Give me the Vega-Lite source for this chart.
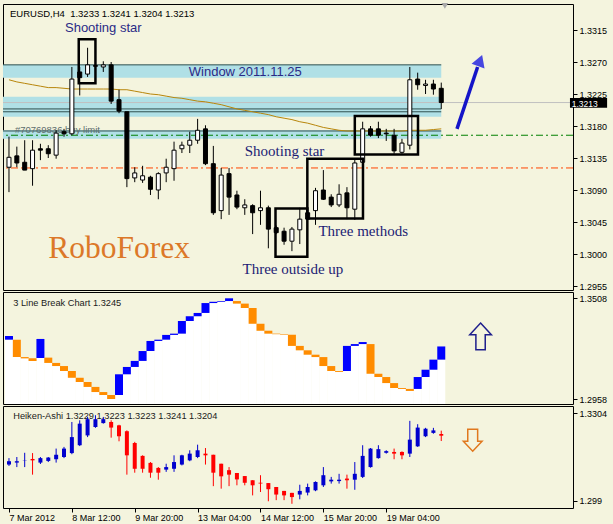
{
  "$schema": "https://vega.github.io/schema/vega-lite/v6.json",
  "background": "#F4F4DE",
  "padding": {"left": 2, "top": 2, "right": 10, "bottom": 6},
  "bounds": "flush",
  "spacing": 2,
  "config": {
    "view": {"stroke": "#000000", "strokeWidth": 1},
    "axis": {"labelFont": "Liberation Sans", "labelFontSize": 9, "labelColor": "#000000", "tickColor": "#000000", "tickSize": 4, "domain": false, "grid": false, "labelPadding": 2, "labelOverlap": false}
  },
  "datasets": {
    "candles": [
      {"k":0,"o":1.3122,"h":1.3165,"l":1.3087,"c":1.3136,"ma":1.3245},
      {"k":1,"o":1.3138,"h":1.3151,"l":1.3122,"c":1.3128,"ma":1.3242},
      {"k":2,"o":1.3129,"h":1.3160,"l":1.3118,"c":1.3118,"ma":1.3240},
      {"k":3,"o":1.3120,"h":1.3160,"l":1.3096,"c":1.3146,"ma":1.3238},
      {"k":4,"o":1.3148,"h":1.3155,"l":1.3132,"c":1.3146,"ma":1.3236},
      {"k":5,"o":1.3148,"h":1.3153,"l":1.3135,"c":1.3141,"ma":1.3234},
      {"k":6,"o":1.3139,"h":1.3174,"l":1.3134,"c":1.3170,"ma":1.3234},
      {"k":7,"o":1.3172,"h":1.3176,"l":1.3165,"c":1.3169,"ma":1.3233},
      {"k":8,"o":1.3169,"h":1.3263,"l":1.3167,"c":1.3246,"ma":1.3232},
      {"k":9,"o":1.3256,"h":1.3263,"l":1.3223,"c":1.3248,"ma":1.3232},
      {"k":10,"o":1.3253,"h":1.3290,"l":1.3249,"c":1.3266,"ma":1.3232},
      {"k":11,"o":1.3265,"h":1.3267,"l":1.3262,"c":1.3264,"ma":1.3232},
      {"k":12,"o":1.3263,"h":1.3271,"l":1.3256,"c":1.3266,"ma":1.3232},
      {"k":13,"o":1.3266,"h":1.3270,"l":1.3211,"c":1.3215,"ma":1.3232},
      {"k":14,"o":1.3217,"h":1.3231,"l":1.3198,"c":1.3201,"ma":1.3231},
      {"k":15,"o":1.3200,"h":1.3200,"l":1.3094,"c":1.3106,"ma":1.3231},
      {"k":16,"o":1.3107,"h":1.3122,"l":1.3101,"c":1.3114,"ma":1.3229},
      {"k":17,"o":1.3104,"h":1.3124,"l":1.3100,"c":1.3110,"ma":1.3227},
      {"k":18,"o":1.3108,"h":1.3110,"l":1.3083,"c":1.3091,"ma":1.3225},
      {"k":19,"o":1.3090,"h":1.3115,"l":1.3077,"c":1.3113,"ma":1.3224},
      {"k":20,"o":1.3114,"h":1.3134,"l":1.3101,"c":1.3122,"ma":1.3222},
      {"k":21,"o":1.3120,"h":1.3158,"l":1.3103,"c":1.3146,"ma":1.3220},
      {"k":22,"o":1.3148,"h":1.3158,"l":1.3142,"c":1.3153,"ma":1.3219},
      {"k":23,"o":1.3153,"h":1.3172,"l":1.3142,"c":1.3160,"ma":1.3217},
      {"k":24,"o":1.3160,"h":1.3190,"l":1.3155,"c":1.3174,"ma":1.3215},
      {"k":25,"o":1.3176,"h":1.3181,"l":1.3125,"c":1.3127,"ma":1.3214},
      {"k":26,"o":1.3127,"h":1.3152,"l":1.3055,"c":1.3058,"ma":1.3212},
      {"k":27,"o":1.3061,"h":1.3121,"l":1.3049,"c":1.3111,"ma":1.3210},
      {"k":28,"o":1.3113,"h":1.3121,"l":1.3055,"c":1.3080,"ma":1.3207},
      {"k":29,"o":1.3083,"h":1.3089,"l":1.3063,"c":1.3066,"ma":1.3204},
      {"k":30,"o":1.3065,"h":1.3077,"l":1.3055,"c":1.3069,"ma":1.3202},
      {"k":31,"o":1.3068,"h":1.3070,"l":1.3028,"c":1.3058,"ma":1.3200},
      {"k":32,"o":1.3061,"h":1.3089,"l":1.3041,"c":1.3065,"ma":1.3198},
      {"k":33,"o":1.3065,"h":1.3068,"l":1.3008,"c":1.3035,"ma":1.3196},
      {"k":34,"o":1.3037,"h":1.3040,"l":1.3028,"c":1.3030,"ma":1.3193},
      {"k":35,"o":1.3032,"h":1.3037,"l":1.3013,"c":1.3018,"ma":1.3191},
      {"k":36,"o":1.3018,"h":1.3038,"l":1.3004,"c":1.3035,"ma":1.3189},
      {"k":37,"o":1.3034,"h":1.3065,"l":1.3014,"c":1.3049,"ma":1.3186},
      {"k":38,"o":1.3058,"h":1.3066,"l":1.3048,"c":1.3049,"ma":1.3184},
      {"k":39,"o":1.3061,"h":1.3093,"l":1.3041,"c":1.3089,"ma":1.3181},
      {"k":40,"o":1.3090,"h":1.3118,"l":1.3076,"c":1.3077,"ma":1.3178},
      {"k":41,"o":1.3080,"h":1.3084,"l":1.3066,"c":1.3069,"ma":1.3176},
      {"k":42,"o":1.3069,"h":1.3098,"l":1.3066,"c":1.3084,"ma":1.3174},
      {"k":43,"o":1.3086,"h":1.3094,"l":1.3049,"c":1.3065,"ma":1.3173},
      {"k":44,"o":1.3063,"h":1.3134,"l":1.3048,"c":1.3128,"ma":1.3173},
      {"k":45,"o":1.3129,"h":1.3186,"l":1.3128,"c":1.3176,"ma":1.3173},
      {"k":46,"o":1.3176,"h":1.3180,"l":1.3165,"c":1.3167,"ma":1.3173},
      {"k":47,"o":1.3176,"h":1.3186,"l":1.3163,"c":1.3167,"ma":1.3173},
      {"k":48,"o":1.3170,"h":1.3176,"l":1.3159,"c":1.3169,"ma":1.3173},
      {"k":49,"o":1.3167,"h":1.3176,"l":1.3141,"c":1.3145,"ma":1.3173},
      {"k":50,"o":1.3143,"h":1.3162,"l":1.3141,"c":1.3156,"ma":1.3173},
      {"k":51,"o":1.3153,"h":1.3263,"l":1.3147,"c":1.3245,"ma":1.3174},
      {"k":52,"o":1.3246,"h":1.3255,"l":1.3231,"c":1.3238,"ma":1.3174},
      {"k":53,"o":1.3237,"h":1.3245,"l":1.3225,"c":1.3239,"ma":1.3174},
      {"k":54,"o":1.3239,"h":1.3245,"l":1.3224,"c":1.3232,"ma":1.3175},
      {"k":55,"o":1.3233,"h":1.3241,"l":1.3204,"c":1.3213,"ma":1.3176}
    ],
    "zones": [
      {"t1":-1,"t2":55,"p1":1.3248,"p2":1.3266},
      {"t1":-1,"t2":55,"p1":1.3193,"p2":1.3221},
      {"t1":-1,"t2":55,"p1":1.3162,"p2":1.3174}
    ],
    "levels": [
      {"t1":-1,"t2":55,"p":1.3266},
      {"t1":-1,"t2":55,"p":1.3204},
      {"t1":-1,"t2":55,"p":1.3200},
      {"t1":-1,"t2":55,"p":1.3173}
    ],
    "boxes": [
      {"t1":8.875,"t2":11.0,"p1":1.3240,"p2":1.3302},
      {"t1":33.91,"t2":37.96,"p1":1.2996,"p2":1.3064},
      {"t1":37.96,"t2":45.04,"p1":1.3050,"p2":1.3134},
      {"t1":44.0,"t2":52.04,"p1":1.3140,"p2":1.3194}
    ],
    "linebreak": [
      {"c":0,"lo":1.3282,"hi":1.3302,"dir":"up"},
      {"c":1,"lo":1.3187,"hi":1.3282,"dir":"down"},
      {"c":2,"lo":1.3180,"hi":1.3187,"dir":"down"},
      {"c":3,"lo":1.3166,"hi":1.3180,"dir":"down"},
      {"c":4,"lo":1.3182,"hi":1.3286,"dir":"up"},
      {"c":5,"lo":1.3155,"hi":1.3184,"dir":"down"},
      {"c":6,"lo":1.3138,"hi":1.3155,"dir":"down"},
      {"c":7,"lo":1.3111,"hi":1.3138,"dir":"down"},
      {"c":8,"lo":1.3074,"hi":1.3111,"dir":"down"},
      {"c":9,"lo":1.3051,"hi":1.3074,"dir":"down"},
      {"c":10,"lo":1.3024,"hi":1.3051,"dir":"down"},
      {"c":11,"lo":1.2996,"hi":1.3024,"dir":"down"},
      {"c":12,"lo":1.2980,"hi":1.2996,"dir":"down"},
      {"c":13,"lo":1.2958,"hi":1.2980,"dir":"down"},
      {"c":14,"lo":1.2980,"hi":1.3093,"dir":"up"},
      {"c":15,"lo":1.3093,"hi":1.3133,"dir":"up"},
      {"c":16,"lo":1.3133,"hi":1.3166,"dir":"up"},
      {"c":17,"lo":1.3166,"hi":1.3220,"dir":"up"},
      {"c":18,"lo":1.3220,"hi":1.3275,"dir":"up"},
      {"c":19,"lo":1.3275,"hi":1.3282,"dir":"up"},
      {"c":20,"lo":1.3282,"hi":1.3308,"dir":"up"},
      {"c":21,"lo":1.3308,"hi":1.3315,"dir":"up"},
      {"c":22,"lo":1.3315,"hi":1.3384,"dir":"up"},
      {"c":23,"lo":1.3384,"hi":1.3410,"dir":"up"},
      {"c":24,"lo":1.3410,"hi":1.3428,"dir":"up"},
      {"c":25,"lo":1.3428,"hi":1.3482,"dir":"up"},
      {"c":26,"lo":1.3482,"hi":1.3489,"dir":"up"},
      {"c":27,"lo":1.3489,"hi":1.3493,"dir":"up"},
      {"c":28,"lo":1.3493,"hi":1.3508,"dir":"up"},
      {"c":29,"lo":1.3479,"hi":1.3493,"dir":"down"},
      {"c":30,"lo":1.3455,"hi":1.3479,"dir":"down"},
      {"c":31,"lo":1.3369,"hi":1.3455,"dir":"down"},
      {"c":32,"lo":1.3331,"hi":1.3369,"dir":"down"},
      {"c":33,"lo":1.3315,"hi":1.3331,"dir":"down"},
      {"c":34,"lo":1.3312,"hi":1.3315,"dir":"down"},
      {"c":35,"lo":1.3309,"hi":1.3312,"dir":"down"},
      {"c":36,"lo":1.3248,"hi":1.3309,"dir":"down"},
      {"c":37,"lo":1.3224,"hi":1.3248,"dir":"down"},
      {"c":38,"lo":1.3200,"hi":1.3224,"dir":"down"},
      {"c":39,"lo":1.3187,"hi":1.3200,"dir":"down"},
      {"c":40,"lo":1.3138,"hi":1.3187,"dir":"down"},
      {"c":41,"lo":1.3111,"hi":1.3138,"dir":"down"},
      {"c":42,"lo":1.3106,"hi":1.3111,"dir":"down"},
      {"c":43,"lo":1.3111,"hi":1.3248,"dir":"up"},
      {"c":44,"lo":1.3248,"hi":1.3258,"dir":"up"},
      {"c":45,"lo":1.3258,"hi":1.3269,"dir":"up"},
      {"c":46,"lo":1.3096,"hi":1.3258,"dir":"down"},
      {"c":47,"lo":1.3078,"hi":1.3096,"dir":"down"},
      {"c":48,"lo":1.3045,"hi":1.3078,"dir":"down"},
      {"c":49,"lo":1.3018,"hi":1.3045,"dir":"down"},
      {"c":50,"lo":1.3013,"hi":1.3018,"dir":"down"},
      {"c":51,"lo":1.3002,"hi":1.3013,"dir":"down"},
      {"c":52,"lo":1.3013,"hi":1.3078,"dir":"up"},
      {"c":53,"lo":1.3078,"hi":1.3118,"dir":"up"},
      {"c":54,"lo":1.3118,"hi":1.3173,"dir":"up"},
      {"c":55,"lo":1.3173,"hi":1.3245,"dir":"up"}
    ],
    "heikin": [
      {"k":0,"o":1.3120,"h":1.3143,"l":1.3115,"c":1.3132},
      {"k":1,"o":1.3127,"h":1.3147,"l":1.3111,"c":1.3132},
      {"k":2,"o":1.3135,"h":1.3162,"l":1.3111,"c":1.3136},
      {"k":3,"o":1.3140,"h":1.3161,"l":1.3084,"c":1.3135},
      {"k":4,"o":1.3127,"h":1.3147,"l":1.3122,"c":1.3143},
      {"k":5,"o":1.3133,"h":1.3147,"l":1.3129,"c":1.3145},
      {"k":6,"o":1.3139,"h":1.3177,"l":1.3127,"c":1.3155},
      {"k":7,"o":1.3147,"h":1.3183,"l":1.3143,"c":1.3177},
      {"k":8,"o":1.3161,"h":1.3272,"l":1.3157,"c":1.3218},
      {"k":9,"o":1.3189,"h":1.3278,"l":1.3186,"c":1.3266},
      {"k":10,"o":1.3224,"h":1.3290,"l":1.3218,"c":1.3282},
      {"k":11,"o":1.3254,"h":1.3296,"l":1.3251,"c":1.3282},
      {"k":12,"o":1.3268,"h":1.3290,"l":1.3266,"c":1.3282},
      {"k":13,"o":1.3272,"h":1.3278,"l":1.3216,"c":1.3252},
      {"k":14,"o":1.3260,"h":1.3262,"l":1.3203,"c":1.3221},
      {"k":15,"o":1.3239,"h":1.3242,"l":1.3084,"c":1.3153},
      {"k":16,"o":1.3197,"h":1.3201,"l":1.3091,"c":1.3105},
      {"k":17,"o":1.3151,"h":1.3153,"l":1.3091,"c":1.3105},
      {"k":18,"o":1.3126,"h":1.3129,"l":1.3073,"c":1.3091},
      {"k":19,"o":1.3108,"h":1.3111,"l":1.3066,"c":1.3091},
      {"k":20,"o":1.3102,"h":1.3123,"l":1.3094,"c":1.3111},
      {"k":21,"o":1.3105,"h":1.3153,"l":1.3094,"c":1.3129},
      {"k":22,"o":1.3120,"h":1.3155,"l":1.3117,"c":1.3153},
      {"k":23,"o":1.3135,"h":1.3171,"l":1.3132,"c":1.3159},
      {"k":24,"o":1.3147,"h":1.3191,"l":1.3143,"c":1.3171},
      {"k":25,"o":1.3159,"h":1.3179,"l":1.3120,"c":1.3153},
      {"k":26,"o":1.3155,"h":1.3155,"l":1.3043,"c":1.3091},
      {"k":27,"o":1.3123,"h":1.3123,"l":1.3034,"c":1.3078},
      {"k":28,"o":1.3100,"h":1.3111,"l":1.3043,"c":1.3084},
      {"k":29,"o":1.3090,"h":1.3090,"l":1.3046,"c":1.3067},
      {"k":30,"o":1.3079,"h":1.3079,"l":1.3046,"c":1.3055},
      {"k":31,"o":1.3064,"h":1.3064,"l":1.3010,"c":1.3046},
      {"k":32,"o":1.3055,"h":1.3082,"l":1.3022,"c":1.3052},
      {"k":33,"o":1.3054,"h":1.3054,"l":1.2989,"c":1.3032},
      {"k":34,"o":1.3040,"h":1.3040,"l":1.2993,"c":1.3013},
      {"k":35,"o":1.3026,"h":1.3026,"l":1.2993,"c":1.3010},
      {"k":36,"o":1.3019,"h":1.3019,"l":1.2980,"c":1.3004},
      {"k":37,"o":1.3013,"h":1.3048,"l":1.2996,"c":1.3026},
      {"k":38,"o":1.3020,"h":1.3052,"l":1.3010,"c":1.3040},
      {"k":39,"o":1.3028,"h":1.3060,"l":1.3025,"c":1.3058},
      {"k":40,"o":1.3046,"h":1.3111,"l":1.3040,"c":1.3082},
      {"k":41,"o":1.3060,"h":1.3076,"l":1.3052,"c":1.3066},
      {"k":42,"o":1.3061,"h":1.3087,"l":1.3052,"c":1.3066},
      {"k":43,"o":1.3070,"h":1.3084,"l":1.3034,"c":1.3064},
      {"k":44,"o":1.3066,"h":1.3129,"l":1.3030,"c":1.3087},
      {"k":45,"o":1.3076,"h":1.3189,"l":1.3072,"c":1.3151},
      {"k":46,"o":1.3111,"h":1.3179,"l":1.3109,"c":1.3177},
      {"k":47,"o":1.3143,"h":1.3189,"l":1.3141,"c":1.3175},
      {"k":48,"o":1.3162,"h":1.3171,"l":1.3159,"c":1.3168},
      {"k":49,"o":1.3165,"h":1.3177,"l":1.3139,"c":1.3159},
      {"k":50,"o":1.3165,"h":1.3167,"l":1.3139,"c":1.3153},
      {"k":51,"o":1.3159,"h":1.3276,"l":1.3147,"c":1.3209},
      {"k":52,"o":1.3185,"h":1.3264,"l":1.3183,"c":1.3252},
      {"k":53,"o":1.3221,"h":1.3251,"l":1.3218,"c":1.3248},
      {"k":54,"o":1.3233,"h":1.3251,"l":1.3230,"c":1.3242},
      {"k":55,"o":1.3229,"h":1.3241,"l":1.3204,"c":1.3223}
    ]
  },
  "vconcat": [
    {
      "width": 570,
      "height": 286,
      "layer": [
        {
          "data": {"name": "zones"},
          "mark": {"type": "rect", "color": "#B0E0E6", "clip": true},
          "encoding": {
            "x": {"field": "t1", "type": "quantitative", "title": null, "scale": {"domain": [-0.125, 71.125], "nice": false, "zero": false}, "axis": null},
            "x2": {"field": "t2"},
            "y": {"field": "p1", "type": "quantitative", "title": null, "scale": {"domain": [1.2949375, 1.33515625], "nice": false, "zero": false},
                  "axis": {"orient": "right", "values": [1.2955, 1.3, 1.3045, 1.309, 1.3135, 1.318, 1.3225, 1.327, 1.3315], "tickCount": 20, "format": ".4f", "labelOverlap": false}},
            "y2": {"field": "p2"}
          }
        },
        {
          "data": {"name": "levels"},
          "mark": {"type": "rule", "color": "#2F4F4F", "strokeWidth": 1, "clip": true},
          "encoding": {
            "x": {"field": "t1", "type": "quantitative", "title": null, "scale": {"domain": [-0.125, 71.125], "nice": false, "zero": false}, "axis": null},
            "x2": {"field": "t2"},
            "y": {"field": "p", "type": "quantitative", "title": null, "scale": {"domain": [1.2949375, 1.33515625], "nice": false, "zero": false}}
          }
        },
        {
          "data": {"values": [{"p": 1.3213}]},
          "mark": {"type": "rule", "color": "#C0C0C0", "strokeWidth": 1},
          "encoding": {
            "y": {"field": "p", "type": "quantitative", "title": null, "scale": {"domain": [1.2949375, 1.33515625], "nice": false, "zero": false}}
          }
        },
        {
          "data": {"values": [{"p": 1.3167}]},
          "mark": {"type": "rule", "color": "#008000", "strokeWidth": 1, "strokeDash": [7, 3, 2, 3]},
          "encoding": {
            "y": {"field": "p", "type": "quantitative", "title": null, "scale": {"domain": [1.2949375, 1.33515625], "nice": false, "zero": false}}
          }
        },
        {
          "data": {"values": [{"p": 1.3121}]},
          "mark": {"type": "rule", "color": "#FF4500", "strokeWidth": 1, "strokeDash": [7, 3, 2, 3]},
          "encoding": {
            "y": {"field": "p", "type": "quantitative", "title": null, "scale": {"domain": [1.2949375, 1.33515625], "nice": false, "zero": false}}
          }
        },
        {
          "data": {"name": "candles"},
          "mark": {"type": "line", "color": "#B8860B", "strokeWidth": 1, "clip": true},
          "encoding": {
            "x": {"field": "k", "type": "quantitative", "title": null, "scale": {"domain": [-0.125, 71.125], "nice": false, "zero": false}, "axis": null},
            "y": {"field": "ma", "type": "quantitative", "title": null, "scale": {"domain": [1.2949375, 1.33515625], "nice": false, "zero": false}}
          }
        },
        {
          "data": {"values": [{"t": 5.0, "p": 1.2994, "label": "RoboForex"}]},
          "mark": {"type": "text", "font": "Liberation Serif", "fontSize": 31.5, "color": "#DC7828", "align": "left", "baseline": "alphabetic"},
          "encoding": {
            "x": {"field": "t", "type": "quantitative", "title": null, "scale": {"domain": [-0.125, 71.125], "nice": false, "zero": false}, "axis": null},
            "y": {"field": "p", "type": "quantitative", "title": null, "scale": {"domain": [1.2949375, 1.33515625], "nice": false, "zero": false}},
            "text": {"field": "label"}
          }
        },
        {
          "data": {"values": [
            {"t": 30.0, "p": 1.3138, "label": "Shooting star"},
            {"t": 39.375, "p": 1.3025, "label": "Three methods"},
            {"t": 29.71, "p": 1.2972, "label": "Three outside up"}
          ]},
          "mark": {"type": "text", "font": "Liberation Serif", "fontSize": 15, "color": "#1C1C74", "align": "left", "baseline": "alphabetic"},
          "encoding": {
            "x": {"field": "t", "type": "quantitative", "title": null, "scale": {"domain": [-0.125, 71.125], "nice": false, "zero": false}, "axis": null},
            "y": {"field": "p", "type": "quantitative", "title": null, "scale": {"domain": [1.2949375, 1.33515625], "nice": false, "zero": false}},
            "text": {"field": "label"}
          }
        },
        {
          "data": {"values": [
            {"t": 7.125, "p": 1.33115, "label": "Shooting star"},
            {"t": 22.875, "p": 1.3251, "label": "Window 2011.11.25"}
          ]},
          "mark": {"type": "text", "font": "Liberation Sans", "fontSize": 13, "color": "#2A2A86", "align": "left", "baseline": "alphabetic"},
          "encoding": {
            "x": {"field": "t", "type": "quantitative", "title": null, "scale": {"domain": [-0.125, 71.125], "nice": false, "zero": false}, "axis": null},
            "y": {"field": "p", "type": "quantitative", "title": null, "scale": {"domain": [1.2949375, 1.33515625], "nice": false, "zero": false}},
            "text": {"field": "label"}
          }
        },
        {
          "data": {"values": [{"t": 0.75, "p": 1.3170, "label": "#70769836 buy limit"}]},
          "mark": {"type": "text", "font": "Liberation Sans", "fontSize": 9.5, "color": "#5E6E6E", "align": "left", "baseline": "alphabetic"},
          "encoding": {
            "x": {"field": "t", "type": "quantitative", "title": null, "scale": {"domain": [-0.125, 71.125], "nice": false, "zero": false}, "axis": null},
            "y": {"field": "p", "type": "quantitative", "title": null, "scale": {"domain": [1.2949375, 1.33515625], "nice": false, "zero": false}},
            "text": {"field": "label"}
          }
        },
        {
          "data": {"values": [{"t": 0.125, "p": 1.3337, "label": "EURUSD,H4\u00a0 1.3233 1.3241 1.3204 1.3213"}]},
          "mark": {"type": "text", "font": "Liberation Sans", "fontSize": 9.5, "color": "#000000", "align": "left", "baseline": "middle"},
          "encoding": {
            "x": {"field": "t", "type": "quantitative", "title": null, "scale": {"domain": [-0.125, 71.125], "nice": false, "zero": false}, "axis": null},
            "y": {"field": "p", "type": "quantitative", "title": null, "scale": {"domain": [1.2949375, 1.33515625], "nice": false, "zero": false}},
            "text": {"field": "label"}
          }
        },
        {
          "data": {"name": "candles"},
          "mark": {"type": "rule", "color": "#000000", "strokeWidth": 1, "clip": true},
          "encoding": {
            "x": {"field": "k", "type": "quantitative", "title": null, "scale": {"domain": [-0.125, 71.125], "nice": false, "zero": false}, "axis": null},
            "y": {"field": "l", "type": "quantitative", "title": null, "scale": {"domain": [1.2949375, 1.33515625], "nice": false, "zero": false}},
            "y2": {"field": "h"}
          }
        },
        {
          "data": {"name": "candles"},
          "mark": {"type": "bar", "orient": "vertical", "width": 4, "stroke": "#000000", "strokeWidth": 1, "clip": true},
          "encoding": {
            "x": {"field": "k", "type": "quantitative", "title": null, "scale": {"domain": [-0.125, 71.125], "nice": false, "zero": false}, "axis": null},
            "y": {"field": "o", "type": "quantitative", "title": null, "scale": {"domain": [1.2949375, 1.33515625], "nice": false, "zero": false}},
            "y2": {"field": "c"},
            "fill": {"condition": {"test": "datum.c > datum.o", "value": "#FFFFFF"}, "value": "#000000"}
          }
        },
        {
          "data": {"name": "boxes"},
          "mark": {"type": "rect", "fillOpacity": 0, "stroke": "#000000", "strokeWidth": 2.5, "clip": true},
          "encoding": {
            "x": {"field": "t1", "type": "quantitative", "title": null, "scale": {"domain": [-0.125, 71.125], "nice": false, "zero": false}, "axis": null},
            "x2": {"field": "t2"},
            "y": {"field": "p1", "type": "quantitative", "title": null, "scale": {"domain": [1.2949375, 1.33515625], "nice": false, "zero": false}},
            "y2": {"field": "p2"}
          }
        },
        {
          "data": {"values": [{"t": 57.0, "p": 1.3176, "t2": 59.625, "p2": 1.3263}]},
          "mark": {"type": "rule", "color": "#1414C8", "strokeWidth": 3.5},
          "encoding": {
            "x": {"field": "t", "type": "quantitative", "title": null, "scale": {"domain": [-0.125, 71.125], "nice": false, "zero": false}, "axis": null},
            "x2": {"field": "t2"},
            "y": {"field": "p", "type": "quantitative", "title": null, "scale": {"domain": [1.2949375, 1.33515625], "nice": false, "zero": false}},
            "y2": {"field": "p2"}
          }
        },
        {
          "data": {"values": [{"t": 59.94, "p": 1.3272}]},
          "mark": {"type": "point", "shape": "triangle-up", "filled": true, "color": "#4646E0", "opacity": 1, "size": 190, "angle": 20},
          "encoding": {
            "x": {"field": "t", "type": "quantitative", "title": null, "scale": {"domain": [-0.125, 71.125], "nice": false, "zero": false}, "axis": null},
            "y": {"field": "p", "type": "quantitative", "title": null, "scale": {"domain": [1.2949375, 1.33515625], "nice": false, "zero": false}}
          }
        },
        {
          "data": {"values": [{"t": 55.46, "p": 1.3349}]},
          "mark": {"type": "point", "shape": "triangle-down", "filled": true, "color": "#A8A8A8", "opacity": 1, "size": 45},
          "encoding": {
            "x": {"field": "t", "type": "quantitative", "title": null, "scale": {"domain": [-0.125, 71.125], "nice": false, "zero": false}, "axis": null},
            "y": {"field": "p", "type": "quantitative", "title": null, "scale": {"domain": [1.2949375, 1.33515625], "nice": false, "zero": false}}
          }
        },
        {
          "data": {"values": [{"t1": 71.375, "t2": 76.1, "p1": 1.32055, "p2": 1.32195}]},
          "mark": {"type": "rect", "color": "#000000", "clip": false},
          "encoding": {
            "x": {"field": "t1", "type": "quantitative", "title": null, "scale": {"domain": [-0.125, 71.125], "nice": false, "zero": false}, "axis": null},
            "x2": {"field": "t2"},
            "y": {"field": "p1", "type": "quantitative", "title": null, "scale": {"domain": [1.2949375, 1.33515625], "nice": false, "zero": false}},
            "y2": {"field": "p2"}
          }
        },
        {
          "data": {"values": [{"t": 71.6, "p": 1.32115, "label": "1.3213"}]},
          "mark": {"type": "text", "font": "Liberation Sans", "fontSize": 8.5, "color": "#FFFFFF", "align": "left", "baseline": "middle"},
          "encoding": {
            "x": {"field": "t", "type": "quantitative", "title": null, "scale": {"domain": [-0.125, 71.125], "nice": false, "zero": false}, "axis": null},
            "y": {"field": "p", "type": "quantitative", "title": null, "scale": {"domain": [1.2949375, 1.33515625], "nice": false, "zero": false}},
            "text": {"field": "label"}
          }
        }
      ]
    },
    {
      "width": 570,
      "height": 112,
      "layer": [
        {
          "data": {"name": "linebreak"},
          "mark": {"type": "bar", "orient": "vertical", "width": 8, "color": "#FFFFFF", "clip": true},
          "encoding": {
            "x": {"field": "c", "type": "quantitative", "title": null, "scale": {"domain": [-0.125, 71.125], "nice": false, "zero": false}, "axis": null},
            "y": {"field": "lo", "type": "quantitative", "title": null, "scale": {"domain": [1.29307, 1.35424], "nice": false, "zero": false},
                  "axis": {"orient": "right", "values": [1.2958, 1.3508], "tickCount": 10, "format": ".4f", "labelOverlap": false}},
            "y2": {"datum": 1.29}
          }
        },
        {
          "data": {"name": "linebreak"},
          "mark": {"type": "bar", "orient": "vertical", "width": 8, "clip": true},
          "encoding": {
            "x": {"field": "c", "type": "quantitative", "title": null, "scale": {"domain": [-0.125, 71.125], "nice": false, "zero": false}, "axis": null},
            "y": {"field": "lo", "type": "quantitative", "title": null, "scale": {"domain": [1.29307, 1.35424], "nice": false, "zero": false}},
            "y2": {"field": "hi"},
            "color": {"field": "dir", "type": "nominal", "scale": {"domain": ["up", "down"], "range": ["#0000FF", "#FF8C00"]}, "legend": null}
          }
        },
        {
          "data": {"values": [{"t": 0.54, "p": 1.3485, "label": "3 Line Break Chart 1.3245"}]},
          "mark": {"type": "text", "font": "Liberation Sans", "fontSize": 9.25, "color": "#1A1A1A", "align": "left", "baseline": "middle"},
          "encoding": {
            "x": {"field": "t", "type": "quantitative", "title": null, "scale": {"domain": [-0.125, 71.125], "nice": false, "zero": false}, "axis": null},
            "y": {"field": "p", "type": "quantitative", "title": null, "scale": {"domain": [1.29307, 1.35424], "nice": false, "zero": false}},
            "text": {"field": "label"}
          }
        },
        {
          "data": {"values": [{"t": 60.0, "p": 1.3300}]},
          "mark": {"type": "point", "shape": "M0,-1L0.81,-0.12L0.35,-0.12L0.35,1L-0.35,1L-0.35,-0.12L-0.81,-0.12Z", "filled": false, "stroke": "#1E1E8C", "strokeWidth": 1.5, "opacity": 1, "size": 713},
          "encoding": {
            "x": {"field": "t", "type": "quantitative", "title": null, "scale": {"domain": [-0.125, 71.125], "nice": false, "zero": false}, "axis": null},
            "y": {"field": "p", "type": "quantitative", "title": null, "scale": {"domain": [1.29307, 1.35424], "nice": false, "zero": false}}
          }
        }
      ]
    },
    {
      "width": 570,
      "height": 102,
      "layer": [
        {
          "data": {"values": [{"t": 0.54, "p": 1.3292, "label": "Heiken-Ashi 1.3229 1.3223 1.3223 1.3241 1.3204"}]},
          "mark": {"type": "text", "font": "Liberation Sans", "fontSize": 9.25, "color": "#1A1A1A", "align": "left", "baseline": "middle"},
          "encoding": {
            "x": {"field": "t", "type": "quantitative", "title": null, "scale": {"domain": [-0.125, 71.125], "nice": false, "zero": false},
                  "axis": {"orient": "bottom", "values": [0, 8, 16, 24, 32, 40, 48], "tickCount": 20, "labelExpr": "['7 Mar 2012','8 Mar 12:00','9 Mar 20:00','13 Mar 04:00','14 Mar 12:00','15 Mar 20:00','19 Mar 04:00'][datum.value / 8]", "labelAlign": "left", "labelBaseline": "top", "labelPadding": 1, "labelOverlap": false, "labelFlush": false}},
            "y": {"field": "p", "type": "quantitative", "title": null, "scale": {"domain": [1.2965, 1.3329], "nice": false, "zero": false},
                  "axis": {"orient": "right", "values": [1.299, 1.3304], "tickCount": 10, "format": ".4~f", "labelOverlap": false}},
            "text": {"field": "label"}
          }
        },
        {
          "data": {"name": "heikin"},
          "mark": {"type": "rule", "strokeWidth": 1, "clip": true},
          "encoding": {
            "x": {"field": "k", "type": "quantitative", "title": null, "scale": {"domain": [-0.125, 71.125], "nice": false, "zero": false}},
            "y": {"field": "l", "type": "quantitative", "title": null, "scale": {"domain": [1.2965, 1.3329], "nice": false, "zero": false}},
            "y2": {"field": "h"},
            "color": {"condition": {"test": "datum.c >= datum.o", "value": "#0000CD"}, "value": "#FF0000"}
          }
        },
        {
          "data": {"name": "heikin"},
          "mark": {"type": "bar", "orient": "vertical", "width": 4, "clip": true},
          "encoding": {
            "x": {"field": "k", "type": "quantitative", "title": null, "scale": {"domain": [-0.125, 71.125], "nice": false, "zero": false}},
            "y": {"field": "o", "type": "quantitative", "title": null, "scale": {"domain": [1.2965, 1.3329], "nice": false, "zero": false}},
            "y2": {"field": "c"},
            "color": {"condition": {"test": "datum.c >= datum.o", "value": "#0000CD"}, "value": "#FF0000"}
          }
        },
        {
          "data": {"values": [{"t": 59.0, "p": 1.3207}]},
          "mark": {"type": "point", "shape": "M-0.45,-1L0.45,-1L0.45,0.09L0.85,0.09L0,1L-0.85,0.09L-0.45,0.09Z", "filled": false, "stroke": "#E0781E", "strokeWidth": 1.5, "opacity": 1, "size": 484},
          "encoding": {
            "x": {"field": "t", "type": "quantitative", "title": null, "scale": {"domain": [-0.125, 71.125], "nice": false, "zero": false}},
            "y": {"field": "p", "type": "quantitative", "title": null, "scale": {"domain": [1.2965, 1.3329], "nice": false, "zero": false}}
          }
        }
      ]
    }
  ]
}
